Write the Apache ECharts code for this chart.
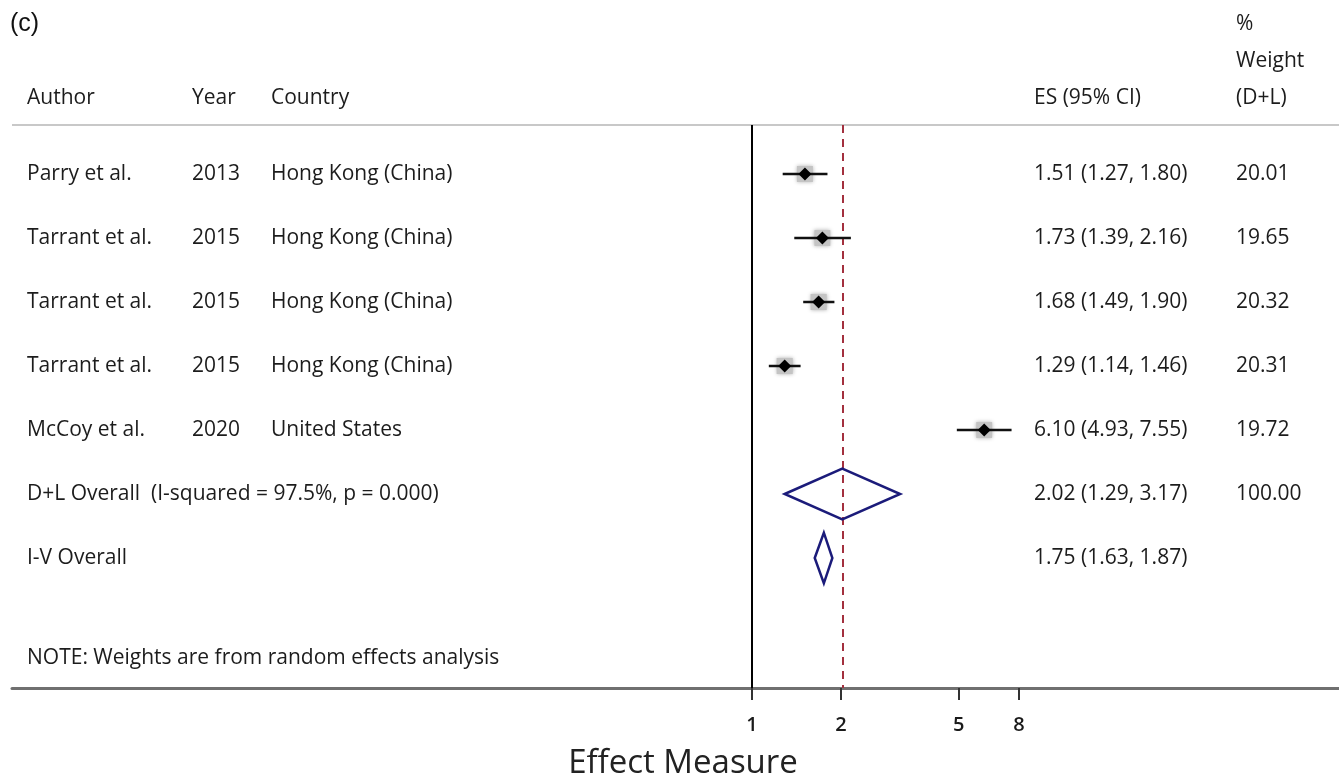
<!DOCTYPE html>
<html>
<head>
<meta charset="utf-8">
<script src="https://cdn.jsdelivr.net/npm/echarts@6/dist/echarts.min.js"></script>
<style>
html,body{margin:0;padding:0;background:#fff;}
#chart{width:1339px;height:779px;}
</style>
</head>
<body>
<div id="chart"></div>
<script>
// ---- data ----
const authors   = ["Parry et al.", "Tarrant et al.", "Tarrant et al.", "Tarrant et al.", "McCoy et al."];
const years     = ["2013", "2015", "2015", "2015", "2020"];
const countries = ["Hong Kong (China)", "Hong Kong (China)", "Hong Kong (China)", "Hong Kong (China)", "United States"];
const esValues  = [1.51, 1.73, 1.68, 1.29, 6.10];
const ciLow     = [1.27, 1.39, 1.49, 1.14, 4.93];
const ciHigh    = [1.80, 2.16, 1.90, 1.46, 7.55];
const weights   = [20.01, 19.65, 20.32, 20.31, 19.72];
const pooledLabels = ["D+L Overall  (I-squared = 97.5%, p = 0.000)", "I-V Overall"];
const pooledES     = [2.02, 1.75];
const pooledLow    = [1.29, 1.63];
const pooledHigh   = [3.17, 1.87];
const pooledWeight = ["100.00", ""];
const tickValues   = [1, 2, 5, 8];
const noteText     = "NOTE: Weights are from random effects analysis";

// ---- helpers ----
const L = v => Math.log10(v);
const fmt = v => v.toFixed(2);
const FONT = '"Open Sans", "DejaVu Sans", sans-serif';
const TXT = '#1c1c1c';
const FS = 21;

const studyRows = esValues.map((v, i) => i);
const pooledRows = pooledES.map((v, i) => esValues.length + i);
const noteRow = esValues.length + pooledES.length + 0.56;
const sepRow = -0.766;
const yMin = -2.71875, yMax = 8.03125;

const chart = echarts.init(document.getElementById('chart'), null, {renderer: 'canvas'});

function txt(x, y, s) {
  return {
    type: 'text',
    style: { x: x, y: y, text: s, fill: TXT, font: FS + 'px ' + FONT, verticalAlign: 'middle' }
  };
}

const tableData = [];
studyRows.forEach(i => tableData.push({value: [0, i], cells: [authors[i], years[i], countries[i],
  fmt(esValues[i]) + ' (' + fmt(ciLow[i]) + ', ' + fmt(ciHigh[i]) + ')', fmt(weights[i])]}));
pooledRows.forEach((r, k) => tableData.push({value: [0, r], cells: [pooledLabels[k], '', '',
  fmt(pooledES[k]) + ' (' + fmt(pooledLow[k]) + ', ' + fmt(pooledHigh[k]) + ')', pooledWeight[k]]}));
tableData.push({value: [0, noteRow], cells: [noteText, '', '', '', '']});

const colX = [27, 192, 271, 1034, 1236];

const option = {
  animation: false,
  backgroundColor: '#fff',
  grid: { left: 12, right: 0, top: 0, bottom: 91, containLabel: false },
  xAxis: {
    type: 'value',
    min: -2.503, max: 1.9855,
    splitLine: { show: false },
    axisLine: { show: true, onZero: false, lineStyle: { color: '#707070', width: 3 } },
    axisTick: { show: true, length: 12, customValues: tickValues.map(L), lineStyle: { color: '#333', width: 2 } },
    axisLabel: {
      customValues: tickValues.map(L),
      formatter: v => String(Math.round(Math.pow(10, v))),
      color: '#1a1a1a', fontSize: 20, fontWeight: 600, fontFamily: FONT, margin: 27
    }
  },
  yAxis: {
    type: 'value', inverse: true, min: yMin, max: yMax,
    show: false, splitLine: { show: false }
  },
  series: [
    {
      // table texts
      type: 'custom',
      silent: true,
      clip: false,
      data: tableData,
      renderItem: function (params, api) {
        const d = tableData[params.dataIndex];
        const y = api.coord([0, api.value(1)])[1];
        const children = [];
        d.cells.forEach((c, j) => { if (c) children.push(txt(colX[j], y, c)); });
        return { type: 'group', children: children };
      },
      markLine: {
        silent: true, symbol: 'none', label: { show: false },
        data: [
          [{ coord: [-2.503, sepRow] }, { coord: [1.9855, sepRow] }]
        ],
        lineStyle: { color: '#c8c8c8', width: 2, type: 'solid' }
      },
      z: 5
    },
    {
      // reference lines
      type: 'line', data: [], silent: true,
      markLine: {
        silent: true, symbol: 'none', label: { show: false },
        data: [
          [{ coord: [0, sepRow], lineStyle: { color: '#000', width: 2, type: 'solid' } },
           { coord: [0, yMax] }],
          [{ coord: [L(pooledES[0]), sepRow], lineStyle: { color: '#a3303e', width: 2, type: [8, 6] } },
           { coord: [L(pooledES[0]), yMax] }]
        ]
      },
      z: 3
    },
    {
      // study estimates
      type: 'custom',
      clip: false,
      data: studyRows.map(i => [L(esValues[i]), L(ciLow[i]), L(ciHigh[i]), i, weights[i]]),
      renderItem: function (params, api) {
        const row = api.value(3);
        const pE = api.coord([api.value(0), row]);
        const pL = api.coord([api.value(1), row]);
        const pH = api.coord([api.value(2), row]);
        const box = 16 * Math.sqrt(api.value(4) / 20);
        const d = 6.5;
        return {
          type: 'group',
          children: [
            { type: 'rect', shape: { x: pE[0] - box / 2, y: pE[1] - box / 2, width: box, height: box },
              style: { fill: '#c4c4c4', shadowBlur: 4, shadowColor: 'rgba(0,0,0,0.3)' } },
            { type: 'line', shape: { x1: pL[0], y1: pL[1], x2: pH[0], y2: pH[1] },
              style: { stroke: '#111', lineWidth: 2.5 } },
            { type: 'polygon', shape: { points: [[pE[0] - d, pE[1]], [pE[0], pE[1] - d], [pE[0] + d, pE[1]], [pE[0], pE[1] + d]] },
              style: { fill: '#000' } }
          ]
        };
      },
      z: 6
    },
    {
      // pooled diamonds
      type: 'custom',
      clip: false,
      data: pooledRows.map((r, k) => [L(pooledES[k]), L(pooledLow[k]), L(pooledHigh[k]), r]),
      renderItem: function (params, api) {
        const row = api.value(3);
        const h = 0.395;
        const pT = api.coord([api.value(0), row - h]);
        const pB = api.coord([api.value(0), row + h]);
        const pL = api.coord([api.value(1), row]);
        const pR = api.coord([api.value(2), row]);
        return {
          type: 'polygon',
          shape: { points: [pL, pT, pR, pB] },
          style: { fill: 'none', stroke: '#1b1b7a', lineWidth: 2.5, lineJoin: 'miter' }
        };
      },
      z: 6
    }
  ],
  graphic: [
    { type: 'text', x: 10, y: 24, style: { text: '(c)', font: '25px "Liberation Sans", Arial, sans-serif', fill: '#111', verticalAlign: 'middle' } },
    { type: 'text', x: 27, y: 98, style: { text: 'Author', font: FS + 'px ' + FONT, fill: TXT, verticalAlign: 'middle' } },
    { type: 'text', x: 192, y: 98, style: { text: 'Year', font: FS + 'px ' + FONT, fill: TXT, verticalAlign: 'middle' } },
    { type: 'text', x: 271, y: 98, style: { text: 'Country', font: FS + 'px ' + FONT, fill: TXT, verticalAlign: 'middle' } },
    { type: 'text', x: 1034, y: 98, style: { text: 'ES (95% CI)', font: FS + 'px ' + FONT, fill: TXT, verticalAlign: 'middle' } },
    { type: 'text', x: 1236, y: 24, style: { text: '%', font: FS + 'px ' + FONT, fill: TXT, verticalAlign: 'middle' } },
    { type: 'text', x: 1236, y: 61, style: { text: 'Weight', font: FS + 'px ' + FONT, fill: TXT, verticalAlign: 'middle' } },
    { type: 'text', x: 1236, y: 98, style: { text: '(D+L)', font: FS + 'px ' + FONT, fill: TXT, verticalAlign: 'middle' } },
    { type: 'text', x: 683, y: 764, style: { text: 'Effect Measure', font: '33px ' + FONT, fill: '#222', align: 'center', verticalAlign: 'middle' } }
  ]
};
chart.setOption(option);
</script>
</body>
</html>
